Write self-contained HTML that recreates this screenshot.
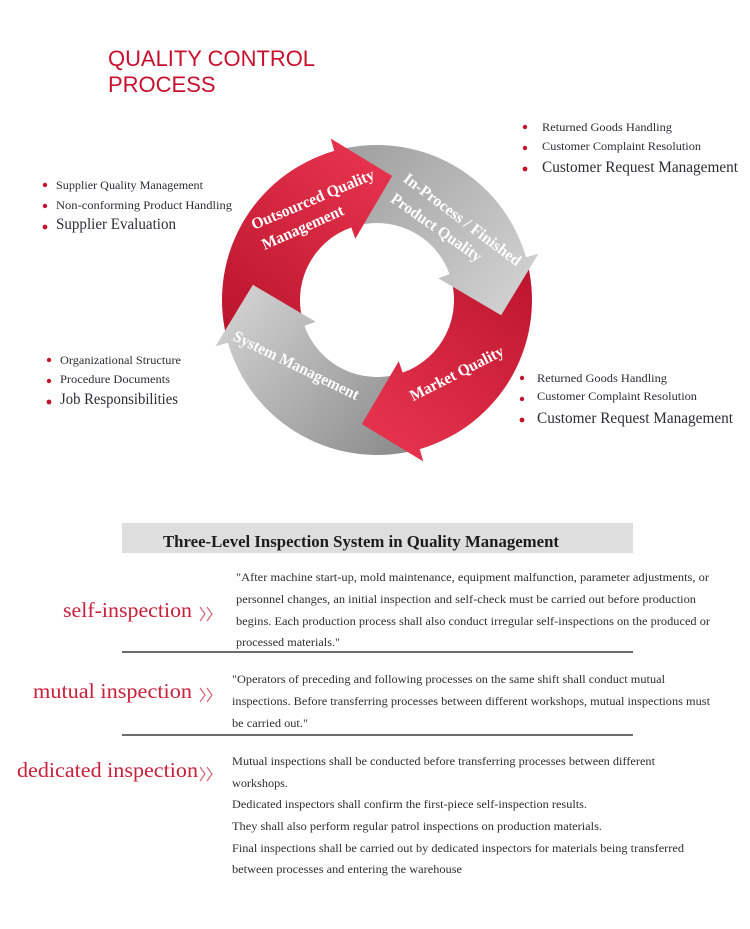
<!DOCTYPE html>
<html><head><meta charset="utf-8">
<style>
html,body{margin:0;padding:0;background:#fff;}
svg{display:block;}
.s{font-family:"Liberation Serif",serif;}
.t{font-family:"Liberation Serif",serif;fill:#2c2c34;}
.p{font-family:"Liberation Serif",serif;fill:#2e2e2e;font-size:12px;}
.lab{font-family:"Liberation Serif",serif;fill:#fff;font-weight:bold;font-size:16px;}
.red{font-family:"Liberation Serif",serif;fill:#c8203a;font-size:21px;}
</style></head>
<body>
<svg width="750" height="929" viewBox="0 0 750 929" xmlns="http://www.w3.org/2000/svg">
<defs>
<linearGradient id="g0" gradientUnits="userSpaceOnUse" x1="245" y1="360" x2="395" y2="165">
<stop offset="0" stop-color="#b8132c"/><stop offset="1" stop-color="#e8344e"/></linearGradient>
<linearGradient id="g1" gradientUnits="userSpaceOnUse" x1="345" y1="180" x2="510" y2="320">
<stop offset="0" stop-color="#a3a3a3"/><stop offset="1" stop-color="#d2d2d2"/></linearGradient>
<linearGradient id="g2" gradientUnits="userSpaceOnUse" x1="510" y1="245" x2="360" y2="440">
<stop offset="0" stop-color="#bc142d"/><stop offset="1" stop-color="#e8354f"/></linearGradient>
<linearGradient id="g3" gradientUnits="userSpaceOnUse" x1="425" y1="445" x2="245" y2="290">
<stop offset="0" stop-color="#888888"/><stop offset="1" stop-color="#d0d0d0"/></linearGradient>
</defs>

<!-- Title -->
<text x="108" y="66" font-family="Liberation Sans, sans-serif" font-size="22" fill="#c8102e" textLength="207" lengthAdjust="spacingAndGlyphs">QUALITY CONTROL</text>
<text x="108" y="92" font-family="Liberation Sans, sans-serif" font-size="22" fill="#c8102e">PROCESS</text>

<!-- Ring bodies -->
<path d="M228.0,342.7 A155,155 0 0 1 334.3,151.0 L351.3,227.4 A77,77 0 0 0 304.4,325.7 Z" fill="url(#g0)"/>
<path d="M334.3,151.0 A155,155 0 0 1 526.0,257.3 L449.6,274.3 A77,77 0 0 0 351.3,227.4 Z" fill="url(#g1)"/>
<path d="M526.0,257.3 A155,155 0 0 1 419.7,449.0 L402.7,372.6 A77,77 0 0 0 449.6,274.3 Z" fill="url(#g2)"/>
<path d="M419.7,449.0 A155,155 0 0 1 228.0,342.7 L304.4,325.7 A77,77 0 0 0 402.7,372.6 Z" fill="url(#g3)"/>
<!-- Arrow heads -->
<path d="M330.7,138.5 L392.2,175.9 L355.3,238.7 L351.3,227.4 A77,77 0 0 0 346.3,229.4 L324.0,154.3 A155,155 0 0 1 334.3,151.0 Z" fill="url(#g0)"/>
<path d="M538.5,253.7 L501.1,315.2 L438.3,278.3 L449.6,274.3 A77,77 0 0 0 447.6,269.3 L522.7,247.0 A155,155 0 0 1 526.0,257.3 Z" fill="url(#g1)"/>
<path d="M423.3,461.5 L361.8,424.1 L398.7,361.3 L402.7,372.6 A77,77 0 0 0 407.7,370.6 L430.0,445.7 A155,155 0 0 1 419.7,449.0 Z" fill="url(#g2)"/>
<path d="M215.5,346.3 L252.9,284.8 L315.7,321.7 L304.4,325.7 A77,77 0 0 0 306.4,330.7 L231.3,353.0 A155,155 0 0 1 228.0,342.7 Z" fill="url(#g3)"/>

<!-- Ring labels -->
<text class="lab" x="313" y="200" text-anchor="middle" dominant-baseline="central" transform="rotate(-23 313 200)" textLength="132" lengthAdjust="spacingAndGlyphs">Outsourced Quality</text>
<text class="lab" x="303" y="228" text-anchor="middle" dominant-baseline="central" transform="rotate(-24 303 228)" textLength="88" lengthAdjust="spacingAndGlyphs">Management</text>
<text class="lab" x="462" y="220" text-anchor="middle" dominant-baseline="central" transform="rotate(37 462 220)" textLength="143" lengthAdjust="spacingAndGlyphs">In-Process / Finished</text>
<text class="lab" x="436" y="228" text-anchor="middle" dominant-baseline="central" transform="rotate(35 436 228)" textLength="107" lengthAdjust="spacingAndGlyphs">Product Quality</text>
<text class="lab" x="296" y="366" text-anchor="middle" dominant-baseline="central" transform="rotate(26 296 366)" textLength="138" lengthAdjust="spacingAndGlyphs">System Management</text>
<text class="lab" x="457" y="374" text-anchor="middle" dominant-baseline="central" transform="rotate(-27 457 374)" textLength="103" lengthAdjust="spacingAndGlyphs">Market Quality</text>

<!-- Lists -->
<g fill="#c0152b">
<circle cx="45" cy="185" r="2.2"/><circle cx="45" cy="206" r="2.2"/><circle cx="45" cy="227" r="2.4"/>
<circle cx="525" cy="127" r="2.2"/><circle cx="525" cy="148" r="2.2"/><circle cx="525" cy="169" r="2.4"/>
<circle cx="49" cy="360" r="2.2"/><circle cx="49" cy="381" r="2.2"/><circle cx="49" cy="402" r="2.4"/>
<circle cx="522" cy="378" r="2.2"/><circle cx="522" cy="399" r="2.2"/><circle cx="522" cy="420" r="2.4"/>
</g>
<text class="t" x="56" y="189" font-size="12" textLength="147" lengthAdjust="spacingAndGlyphs">Supplier Quality Management</text>
<text class="t" x="56" y="209" font-size="12" textLength="176" lengthAdjust="spacingAndGlyphs">Non-conforming Product Handling</text>
<text class="t" x="56" y="229" font-size="15.5" textLength="120" lengthAdjust="spacingAndGlyphs">Supplier Evaluation</text>

<text class="t" x="542" y="131" font-size="12" textLength="130" lengthAdjust="spacingAndGlyphs">Returned Goods Handling</text>
<text class="t" x="542" y="150" font-size="12" textLength="159" lengthAdjust="spacingAndGlyphs">Customer Complaint Resolution</text>
<text class="t" x="542" y="172" font-size="15.5" textLength="196" lengthAdjust="spacingAndGlyphs">Customer Request Management</text>

<text class="t" x="60" y="364" font-size="12" textLength="121" lengthAdjust="spacingAndGlyphs">Organizational Structure</text>
<text class="t" x="60" y="383" font-size="12" textLength="110" lengthAdjust="spacingAndGlyphs">Procedure Documents</text>
<text class="t" x="60" y="404" font-size="15.5" textLength="118" lengthAdjust="spacingAndGlyphs">Job Responsibilities</text>

<text class="t" x="537" y="382" font-size="12" textLength="130" lengthAdjust="spacingAndGlyphs">Returned Goods Handling</text>
<text class="t" x="537" y="400" font-size="12" textLength="160" lengthAdjust="spacingAndGlyphs">Customer Complaint Resolution</text>
<text class="t" x="537" y="423" font-size="15.5" textLength="196" lengthAdjust="spacingAndGlyphs">Customer Request Management</text>

<!-- Three-level section -->
<rect x="122" y="523" width="511" height="30" fill="#dedede"/>
<text class="s" x="163" y="547" font-size="16.5" font-weight="bold" fill="#1c1c1c" textLength="396" lengthAdjust="spacingAndGlyphs">Three-Level Inspection System in Quality Management</text>

<!-- self-inspection -->
<text class="red" x="63" y="617" textLength="129" lengthAdjust="spacingAndGlyphs">self-inspection</text>
<g fill="none" stroke="#d65a6c" stroke-width="1.1">
<polyline points="200,607 205,614 200,621"/><polyline points="207,607 212,614 207,621"/>
</g>
<text class="p" x="236" y="581" textLength="473" lengthAdjust="spacingAndGlyphs">"After machine start-up, mold maintenance, equipment malfunction, parameter adjustments, or</text>
<text class="p" x="236" y="603" textLength="460" lengthAdjust="spacingAndGlyphs">personnel changes, an initial inspection and self-check must be carried out before production</text>
<text class="p" x="236" y="625" textLength="474" lengthAdjust="spacingAndGlyphs">begins. Each production process shall also conduct irregular self-inspections on the produced or</text>
<text class="p" x="236" y="646" textLength="104" lengthAdjust="spacingAndGlyphs">processed materials."</text>
<rect x="122" y="651" width="511" height="2" fill="#6c6c6c"/>

<!-- mutual inspection -->
<text class="red" x="33" y="698" textLength="159" lengthAdjust="spacingAndGlyphs">mutual inspection</text>
<g fill="none" stroke="#d65a6c" stroke-width="1.1">
<polyline points="200,688 205,695 200,702"/><polyline points="207,688 212,695 207,702"/>
</g>
<text class="p" x="232" y="683" textLength="433" lengthAdjust="spacingAndGlyphs">"Operators of preceding and following processes on the same shift shall conduct mutual</text>
<text class="p" x="232" y="705" textLength="478" lengthAdjust="spacingAndGlyphs">inspections. Before transferring processes between different workshops, mutual inspections must</text>
<text class="p" x="232" y="727" textLength="76" lengthAdjust="spacingAndGlyphs">be carried out."</text>
<rect x="122" y="734" width="511" height="2" fill="#6c6c6c"/>

<!-- dedicated inspection -->
<text class="red" x="17" y="777" textLength="181" lengthAdjust="spacingAndGlyphs">dedicated inspection</text>
<g fill="none" stroke="#d65a6c" stroke-width="1.1">
<polyline points="200,767 205,774 200,781"/><polyline points="207,767 212,774 207,781"/>
</g>
<text class="p" x="232" y="765" textLength="423" lengthAdjust="spacingAndGlyphs">Mutual inspections shall be conducted before transferring processes between different</text>
<text class="p" x="232" y="787" textLength="56" lengthAdjust="spacingAndGlyphs">workshops.</text>
<text class="p" x="232" y="808" textLength="355" lengthAdjust="spacingAndGlyphs">Dedicated inspectors shall confirm the first-piece self-inspection results.</text>
<text class="p" x="232" y="830" textLength="370" lengthAdjust="spacingAndGlyphs">They shall also perform regular patrol inspections on production materials.</text>
<text class="p" x="232" y="852" textLength="452" lengthAdjust="spacingAndGlyphs">Final inspections shall be carried out by dedicated inspectors for materials being transferred</text>
<text class="p" x="232" y="873" textLength="230" lengthAdjust="spacingAndGlyphs">between processes and entering the warehouse</text>
</svg>
</body></html>
